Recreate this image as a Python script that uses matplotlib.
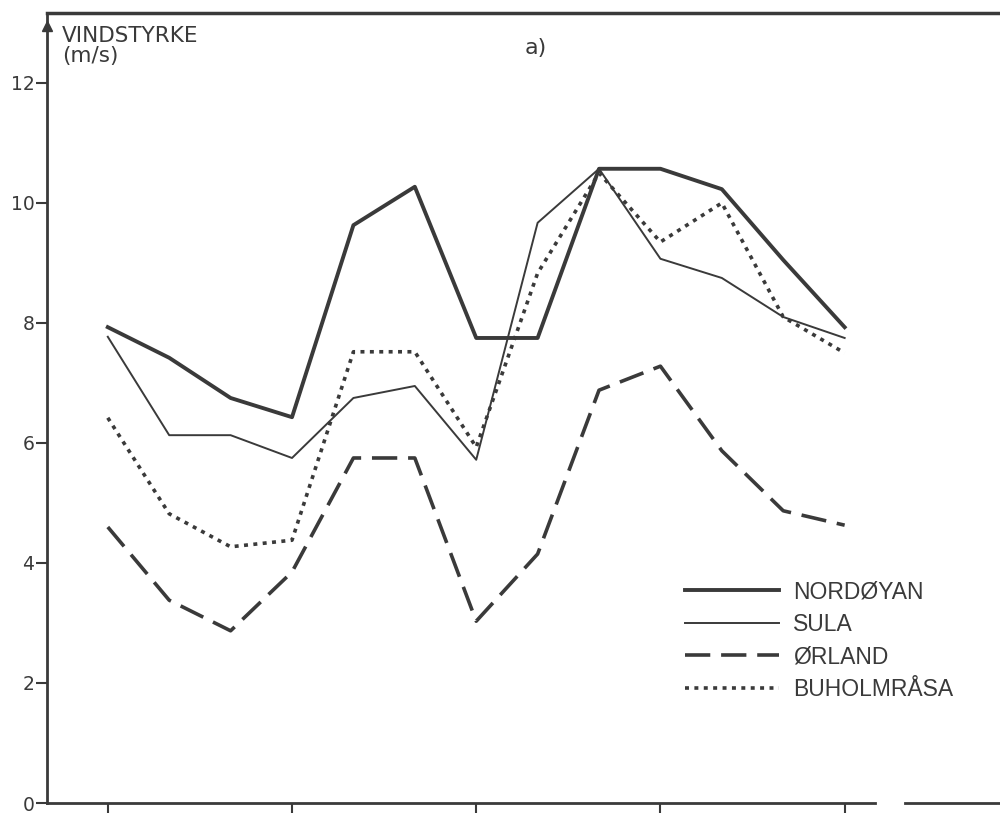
import matplotlib.pyplot as plt
from matplotlib.lines import Line2D

# wind speed (m/s) at 13 points along the x axis
Point_Index = list(range(13))
Nordoyan = [7.93, 7.42, 6.75, 6.43, 9.63, 10.27, 7.75, 7.75, 10.57, 10.57, 10.23, 9.05, 7.93]
Sula = [7.77, 6.13, 6.13, 5.75, 6.75, 6.95, 5.72, 9.67, 10.57, 9.07, 8.75, 8.1, 7.75]
Orland = [4.6, 3.38, 2.87, 3.85, 5.75, 5.75, 3.03, 4.15, 6.88, 7.28, 5.87, 4.87, 4.63]
Buholmrasa = [6.42, 4.82, 4.27, 4.38, 7.52, 7.52, 5.93, 8.83, 10.5, 9.35, 10.0, 8.1, 7.5]

Y_Ticks = [0, 2, 4, 6, 8, 10, 12]
X_Ticks = [0, 3, 6, 9, 12]

ink = "#3a3a3a"

fig = plt.figure(figsize=(10, 8.13), dpi=100)
ax = fig.add_axes([0.047, 0.0123, 0.953, 0.972])

ax.plot(Point_Index, Nordoyan, c=ink, lw=2.8, label="NORDØYAN")
ax.plot(Point_Index, Sula, c=ink, lw=1.4, label="SULA")
ax.plot(Point_Index, Orland, c=ink, lw=2.6, dashes=(7, 3), label="ØRLAND")
ax.plot(Point_Index, Buholmrasa, c=ink, lw=2.6, dashes=(1.1, 1.5), label="BUHOLMRÅSA")

xmin, xmax = -0.99, 14.53
ax.set_xlim(xmin, xmax)
ax.set_ylim(0, 13.17)

ax.set_yticks(Y_Ticks)
ax.set_xticks(X_Ticks)
ax.set_xticklabels([])
ax.tick_params(axis="y", direction="out", length=8, width=1.5, color=ink,
               labelsize=13.5, labelcolor=ink, pad=1)
ax.tick_params(axis="x", direction="out", length=9, width=1.5, color=ink)

for s in ["top", "left", "bottom"]:
    ax.spines[s].set_color(ink)
    ax.spines[s].set_linewidth(2)
ax.spines["right"].set_visible(False)
ax.spines["top"].set_linewidth(2.5)

# bottom axis has a small break near the right end
ax.spines["bottom"].set_bounds(xmin, 12.49)
ax.add_line(Line2D([12.98, xmax], [0, 0], c=ink, lw=2, clip_on=False))

# arrow head on the y axis
ax.plot([xmin], [12.95], marker="^", ms=7, c=ink, clip_on=False)

ax.text(0.016, 0.983, "VINDSTYRKE\n(m/s)", transform=ax.transAxes, ha="left", va="top",
        fontsize=15.5, color=ink, linespacing=1.0, family="DejaVu Sans")
ax.text(0.513, 0.955, "a)", transform=ax.transAxes, ha="center", va="center",
        fontsize=16, color=ink, family="DejaVu Sans")

leg = ax.legend(loc="upper left", bbox_to_anchor=(685 / 1000, 1 - 580 / 813),
                bbox_transform=fig.transFigure, frameon=False, borderpad=0,
                borderaxespad=0, handlelength=4.1, handletextpad=0.6,
                labelspacing=0.42, prop={"family": "Liberation Sans", "size": 16.5})
for t in leg.get_texts():
    t.set_color(ink)

fig.savefig("out.png", dpi=100)
